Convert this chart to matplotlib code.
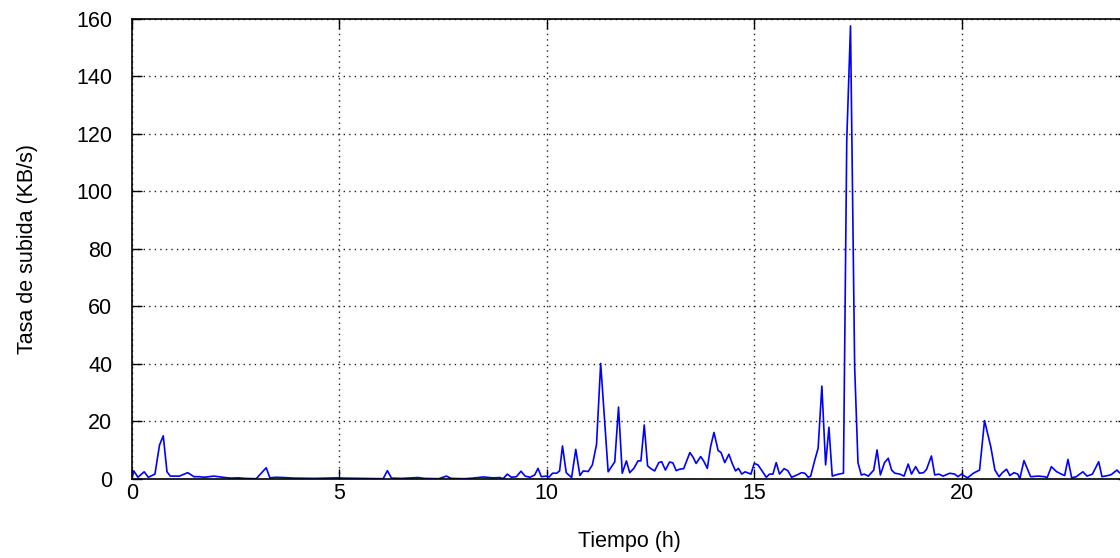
import matplotlib
matplotlib.use("Agg")
import matplotlib.pyplot as plt

# upload rate samples (hours, KB/s)
tiempo = [
    0.0, 0.05, 0.15, 0.3, 0.4, 0.56, 0.67, 0.76, 0.85, 0.93, 1.05, 1.15, 1.35, 1.5, 1.63,
    1.75, 1.98, 2.25, 2.4, 2.57, 2.73, 3.0, 3.24, 3.33, 3.47, 3.67, 3.9, 4.41, 4.73, 4.98,
    5.1, 5.55, 6.06, 6.16, 6.26, 6.5, 6.9, 7.05, 7.4, 7.58, 7.7, 8.02, 8.22, 8.47, 8.7,
    8.87, 8.95, 9.05, 9.15, 9.27, 9.38, 9.48, 9.6, 9.71, 9.79, 9.87, 9.98, 10.06, 10.14, 10.24,
    10.31, 10.38, 10.47, 10.6, 10.7, 10.8, 10.88, 11.0, 11.1, 11.2, 11.3, 11.48, 11.64, 11.73, 11.82,
    11.92, 12.0, 12.1, 12.2, 12.27, 12.35, 12.43, 12.5, 12.6, 12.7, 12.77, 12.86, 12.96, 13.04, 13.12,
    13.2, 13.3, 13.45, 13.53, 13.6, 13.71, 13.78, 13.87, 13.95, 14.03, 14.13, 14.2, 14.29, 14.39, 14.47,
    14.55, 14.62, 14.7, 14.78, 14.92, 15.0, 15.09, 15.19, 15.29, 15.37, 15.45, 15.53, 15.61, 15.72, 15.81,
    15.9, 16.03, 16.14, 16.22, 16.3, 16.36, 16.46, 16.54, 16.63, 16.72, 16.8, 16.88, 16.96, 17.04, 17.15,
    17.23, 17.32, 17.42, 17.5, 17.58, 17.65, 17.75, 17.88, 17.96, 18.04, 18.14, 18.23, 18.31, 18.39, 18.51,
    18.61, 18.71, 18.79, 18.89, 18.98, 19.08, 19.15, 19.27, 19.35, 19.45, 19.55, 19.71, 19.83, 19.91, 19.99,
    20.14, 20.28, 20.43, 20.55, 20.7, 20.8, 20.9, 20.98, 21.08, 21.16, 21.26, 21.35, 21.4, 21.5, 21.66,
    21.84, 22.0, 22.06, 22.16, 22.28, 22.4, 22.48, 22.56, 22.65, 22.76, 22.92, 23.02, 23.15, 23.3, 23.38,
    23.52, 23.6, 23.74, 23.8, 23.92, 24.0,
]
subida = [
    0.0, 2.8, 0.6, 2.5, 0.6, 1.7, 11.8, 15.0, 2.5, 1.0, 1.0, 1.0, 2.2, 0.8, 0.8,
    0.6, 1.0, 0.5, 0.3, 0.4, 0.2, 0.1, 3.9, 0.4, 0.6, 0.5, 0.3, 0.2, 0.3, 0.4,
    0.3, 0.2, 0.1, 2.9, 0.3, 0.2, 0.5, 0.2, 0.1, 1.0, 0.2, 0.1, 0.3, 0.7, 0.4,
    0.5, 0.1, 1.7, 0.6, 0.8, 2.7, 1.0, 0.6, 1.4, 3.7, 0.8, 1.0, 0.7, 2.0, 2.0,
    2.8, 11.5, 2.2, 0.5, 10.3, 1.2, 2.8, 2.6, 4.9, 12.0, 40.2, 2.5, 6.0, 25.0, 2.0,
    6.3, 2.2, 3.7, 6.3, 6.3, 18.8, 4.6, 3.7, 2.8, 5.7, 6.0, 3.1, 5.9, 5.6, 2.9,
    3.4, 3.6, 9.2, 7.5, 5.4, 7.8, 6.3, 3.7, 11.3, 16.2, 9.9, 9.2, 5.7, 8.6, 5.4,
    2.8, 3.7, 1.7, 2.5, 1.7, 5.4, 4.9, 2.8, 0.6, 1.7, 1.7, 5.7, 1.7, 3.6, 2.9,
    0.6, 1.4, 2.2, 2.0, 0.6, 1.0, 6.6, 10.7, 32.3, 4.9, 18.0, 1.0, 1.4, 1.7, 2.0,
    118.0, 157.6, 39.0, 5.7, 1.4, 1.7, 1.0, 3.1, 10.1, 1.4, 5.7, 7.2, 3.1, 2.0, 1.7,
    1.0, 5.2, 1.7, 4.3, 2.0, 2.2, 3.3, 8.0, 1.4, 1.7, 1.0, 2.0, 1.7, 0.8, 1.7,
    0.4, 2.0, 3.1, 20.3, 11.2, 3.1, 0.8, 2.2, 3.4, 1.2, 2.2, 1.7, 0.1, 6.4, 0.8,
    1.0, 0.8, 0.5, 4.3, 2.6, 1.7, 1.2, 6.8, 0.4, 0.8, 2.5, 1.0, 1.7, 6.0, 0.8,
    1.2, 1.5, 3.1, 2.2, 1.5, 2.0,
]
x_ticks = [0, 5, 10, 15, 20]
y_ticks = [0, 20, 40, 60, 80, 100, 120, 140, 160]

plt.rcParams["font.family"] = ["Liberation Sans", "DejaVu Sans"]

fig = plt.figure(figsize=(11.2, 5.58), dpi=100)
ax = fig.add_axes([0.1176, 0.1416, 0.8893, 0.8244])

ax.plot(tiempo, subida, color="#0000ff", linewidth=1.2)

ax.set_xlim(0, 24)
ax.set_ylim(0, 160)
ax.set_xticks(x_ticks)
ax.set_yticks(y_ticks)
ax.grid(True, color="#222222", linestyle=(0, (1, 3)), linewidth=1.0)
ax.tick_params(direction="in", length=7, width=1, labelsize=15.5,
               top=True, right=True)
ax.tick_params(axis="y", pad=14)
ax.tick_params(axis="x", pad=3)
for sp in ax.spines.values():
    sp.set_linewidth(1.2)

ax.set_xlabel("Tiempo (h)", fontsize=15.5)
ax.set_ylabel("Tasa de subida (KB/s)", fontsize=15.5)
ax.xaxis.set_label_coords(0.5, -0.113)
ax.yaxis.set_label_coords(-0.094, 0.5)

fig.savefig("out.png", dpi=100)
